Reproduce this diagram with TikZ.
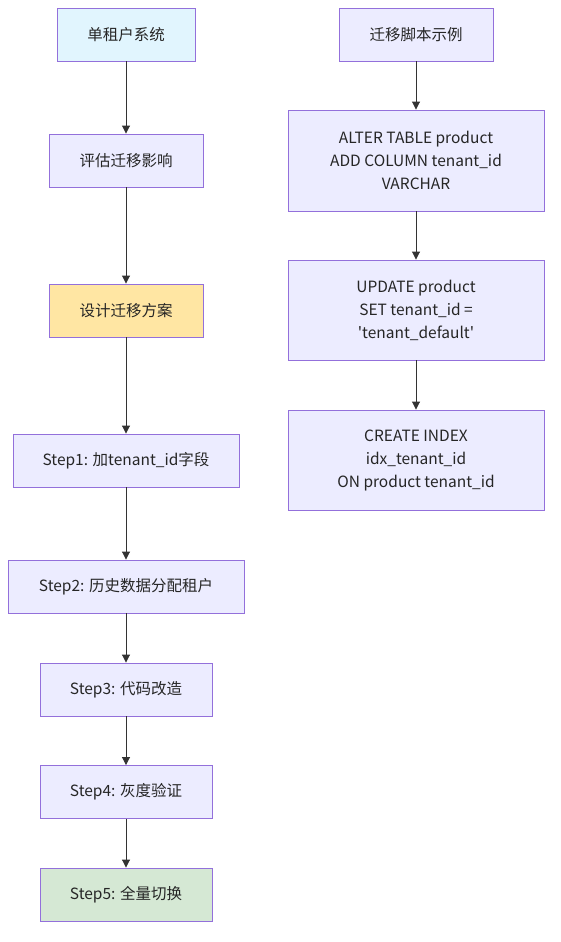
\documentclass[tikz,border=0pt]{standalone}
\usepackage{fontspec}
\setmainfont{Noto Sans CJK SC}[Ligatures=TeXOff]
\usetikzlibrary{arrows.meta}
\definecolor{boxline}{HTML}{9370DB}
\definecolor{boxfill}{HTML}{ECECFF}
\definecolor{startfill}{HTML}{E1F5FE}
\definecolor{planfill}{HTML}{FFE6A3}
\definecolor{donefill}{HTML}{D5E8D4}
\definecolor{edge}{HTML}{333333}
\tikzstyle{stepbox}=[draw=boxline, fill=boxfill, line width=0.9pt, align=center, inner sep=0pt, text=black!85]
\tikzstyle{flow}=[draw=edge, line width=0.9pt, -{Triangle[length=8pt, width=8pt]}]

\begin{document}
\begin{tikzpicture}[x=1pt, y=-1pt, font=\fontsize{15.5}{23}\selectfont]
      \useasboundingbox (0, 0) rectangle (560, 942);

      % left column
      \node[stepbox, fill=startfill, minimum width=138, minimum height=53] (single) at (126, 34.5) {单租户系统};
      \node[stepbox, minimum width=154, minimum height=53] (assess) at (126, 160.5) {评估迁移影响};
      \node[stepbox, fill=planfill, minimum width=154, minimum height=53] (plan) at (126, 310.5) {设计迁移方案};
      \node[stepbox, minimum width=226, minimum height=53] (step1) at (126, 460.5) {Step1: 加tenant\_id字段};
      \node[stepbox, minimum width=236, minimum height=53] (step2) at (126, 586.5) {Step2: 历史数据分配租户};
      \node[stepbox, minimum width=172, minimum height=53] (step3) at (126, 689.5) {Step3: 代码改造};
      \node[stepbox, minimum width=172, minimum height=53] (step4) at (126, 792) {Step4: 灰度验证};
      \node[stepbox, fill=donefill, minimum width=172, minimum height=53] (step5) at (126, 894.5) {Step5: 全量切换};

      % right column
      \node[stepbox, minimum width=154, minimum height=53] (script) at (416, 34.5) {迁移脚本示例};
      \node[stepbox, minimum width=256, minimum height=101] (alter) at (416, 160.5) {ALTER TABLE product\\ADD COLUMN tenant\_id\\VARCHAR};
      \node[stepbox, minimum width=256, minimum height=100] (update) at (416, 310) {UPDATE product\\SET tenant\_id =\\'tenant\_default'};
      \node[stepbox, minimum width=256, minimum height=100] (index) at (416, 460) {CREATE INDEX\\idx\_tenant\_id\\ON product tenant\_id};

      \draw[flow] (single) -- (assess);
      \draw[flow] (assess) -- (plan);
      \draw[flow] (plan) -- (step1);
      \draw[flow] (step1) -- (step2);
      \draw[flow] (step2) -- (step3);
      \draw[flow] (step3) -- (step4);
      \draw[flow] (step4) -- (step5);

      \draw[flow] (script) -- (alter);
      \draw[flow] (alter) -- (update);
      \draw[flow] (update) -- (index);
    \end{tikzpicture}
\end{document}
